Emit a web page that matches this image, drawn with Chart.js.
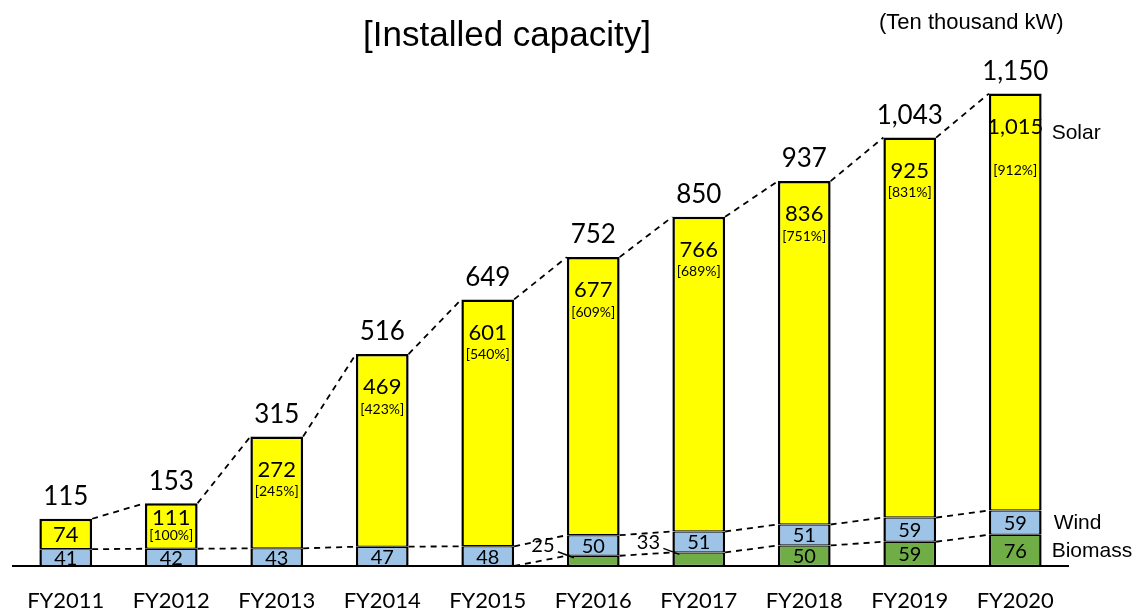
<!DOCTYPE html>
<html>
<head>
<meta charset="utf-8">
<script src="https://cdn.jsdelivr.net/npm/chart.js@4.4.0/dist/chart.umd.min.js"></script>
<style>
  html, body { margin: 0; padding: 0; background: #fff; }
  #wrap { width: 1135px; height: 612px; position: relative; }
</style>
</head>
<body>
<div id="wrap"><canvas id="c" width="1135" height="612"></canvas></div>
<script>
const categories = ['FY2011','FY2012','FY2013','FY2014','FY2015','FY2016','FY2017','FY2018','FY2019','FY2020'];
const biomass = [0, 0, 0, 0, 0, 25, 33, 50, 59, 76];
const wind = [41, 42, 43, 47, 48, 50, 51, 51, 59, 59];
const solar = [74, 111, 272, 469, 601, 677, 766, 836, 925, 1015];
const totals = [115, 153, 315, 516, 649, 752, 850, 937, 1043, 1150];
const solarShare = ['', '[100%]', '[245%]', '[423%]', '[540%]', '[609%]', '[689%]', '[751%]', '[831%]', '[912%]'];
const seriesNames = ['Biomass', 'Wind', 'Solar'];
const chartTitle = '[Installed capacity]';
const unitLabel = '(Ten thousand kW)';

const NUM_FONT = 'Lato, "Open Sans", sans-serif';
const TXT_FONT = '"Liberation Sans", Arial, sans-serif';
const fmt = v => v.toLocaleString('en-US');

const overlay = {
  id: 'overlay',
  afterDatasetsDraw(chart) {
    const ctx = chart.ctx;
    const y = chart.scales.y;
    const mS = chart.getDatasetMeta(2).data;
    const n = categories.length;
    const half = mS[0].width / 2;
    const xs = mS.map(b => b.x);

    // dashed connector lines
    ctx.save();
    ctx.strokeStyle = '#000';
    ctx.lineWidth = 1.8;
    ctx.setLineDash([6, 5]);
    const cumB = biomass.slice();
    const cumW = biomass.map((v, i) => v + wind[i]);
    [totals, cumW, cumB].forEach(arr => {
      for (let i = 0; i < n - 1; i++) {
        if (arr === cumB && arr[i] === 0 && arr[i + 1] === 0) continue;
        ctx.beginPath();
        ctx.moveTo(xs[i] + half, y.getPixelForValue(arr[i]));
        ctx.lineTo(xs[i + 1] - half, y.getPixelForValue(arr[i + 1]));
        ctx.stroke();
      }
    });
    ctx.restore();

    ctx.save();
    ctx.fillStyle = '#000';
    ctx.strokeStyle = '#000';
    ctx.textAlign = 'center';
    ctx.textBaseline = 'middle';
    for (let i = 0; i < n; i++) {
      const x = xs[i];
      const top = y.getPixelForValue(totals[i]);
      // total
      ctx.font = '26px ' + NUM_FONT;
      ctx.fillText(fmt(totals[i]), x, top - 22);
      // solar
      const sTop = top;
      const sBot = y.getPixelForValue(biomass[i] + wind[i]);
      const h = sBot - sTop;
      if (h < 80) {
        const c = (sTop + sBot) / 2;
        if (solarShare[i]) {
          ctx.font = '22px ' + NUM_FONT;
          ctx.fillText(fmt(solar[i]), x, c - 8);
          ctx.font = '14px ' + NUM_FONT;
          ctx.fillText(solarShare[i], x, c + 10);
        } else {
          ctx.font = '22px ' + NUM_FONT;
          ctx.fillText(fmt(solar[i]), x, c + 1);
        }
      } else {
        const last = i === n - 1;
        ctx.font = '22px ' + NUM_FONT;
        ctx.fillText(fmt(solar[i]), x, sTop + 33);
        ctx.font = '14px ' + NUM_FONT;
        ctx.fillText(solarShare[i], x, sTop + (last ? 77 : 55));
      }
      // wind
      const wTop = y.getPixelForValue(biomass[i] + wind[i]);
      const wBot = y.getPixelForValue(biomass[i]);
      ctx.font = '20px ' + NUM_FONT;
      ctx.fillText(fmt(wind[i]), x, (wTop + wBot) / 2 + 1);
      // biomass
      if (biomass[i] > 0) {
        const bTop = y.getPixelForValue(biomass[i]);
        const bBot = y.getPixelForValue(0);
        if (bBot - bTop >= 16) {
          ctx.fillText(fmt(biomass[i]), x, (bTop + bBot) / 2 + 1);
        } else {
          const xl = x - half;
          ctx.fillText(fmt(biomass[i]), xl - 24, bTop - 10);
          ctx.beginPath();
          ctx.lineWidth = 1.4;
          ctx.moveTo(xl - 9, bTop - 4);
          ctx.lineTo(xl + 7, bTop + 2);
          ctx.stroke();
        }
      }
    }
    // titles and series names
    ctx.font = '35px ' + TXT_FONT;
    ctx.fillText(chartTitle, 507, 36);
    ctx.font = '22px ' + TXT_FONT;
    ctx.textAlign = 'left';
    ctx.fillText(unitLabel, 879, 23);
    const lastX = xs[n - 1] + half + 10;
    ctx.font = '21px ' + TXT_FONT;
    ctx.fillText(seriesNames[2], lastX, y.getPixelForValue(totals[n - 1]) + 40);
    ctx.fillText(seriesNames[1], lastX + 2, (y.getPixelForValue(cumW[n - 1]) + y.getPixelForValue(cumB[n - 1])) / 2 + 1);
    ctx.fillText(seriesNames[0], lastX, (y.getPixelForValue(cumB[n - 1]) + y.getPixelForValue(0)) / 2 + 1);
    ctx.restore();
  }
};

const edge = (topW) => ({ left: 2.5, right: 2.5, top: topW, bottom: 1.2 });

new Chart(document.getElementById('c'), {
  type: 'bar',
  data: {
    labels: categories,
    datasets: [
      { label: seriesNames[0], data: biomass.map(v => v === 0 ? null : v), backgroundColor: '#70AD47', borderColor: '#000', borderWidth: edge(1.2), borderSkipped: false },
      { label: seriesNames[1], data: wind, backgroundColor: '#9DC3E6', borderColor: '#000', borderWidth: edge(1.2), borderSkipped: false },
      { label: seriesNames[2], data: solar, backgroundColor: '#FFFF00', borderColor: '#000', borderWidth: edge(2.5), borderSkipped: false }
    ]
  },
  options: {
    responsive: false,
    animation: false,
    devicePixelRatio: 1,
    layout: { padding: { left: 13, right: 67, top: 32, bottom: 0 } },
    datasets: { bar: { categoryPercentage: 1, barPercentage: 0.5 } },
    plugins: { legend: { display: false }, tooltip: { enabled: false }, title: { display: false } },
    scales: {
      x: {
        stacked: true,
        grid: { display: false, drawTicks: false },
        border: { display: true, color: '#000', width: 2 },
        ticks: { color: '#000', font: { family: NUM_FONT, size: 22 }, padding: 22 },
        afterFit: s => { s.height = 46; }
      },
      y: {
        stacked: true,
        display: false,
        min: 0,
        max: 1300
      }
    }
  },
  plugins: [overlay]
});
</script>
</body>
</html>
